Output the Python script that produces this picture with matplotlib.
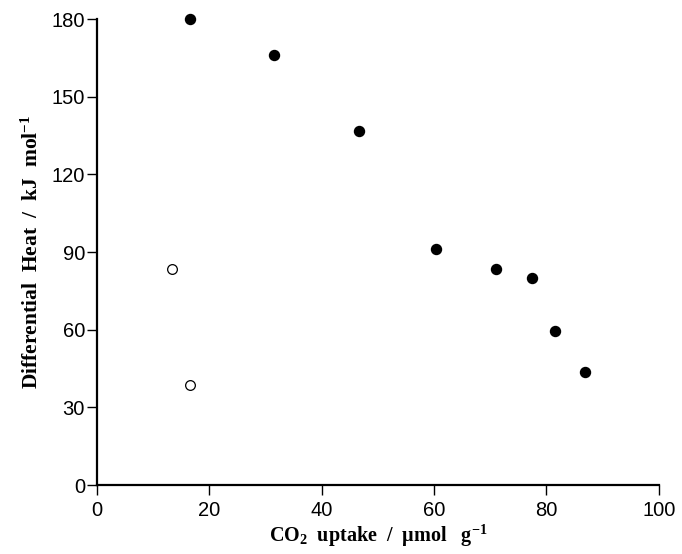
import matplotlib
matplotlib.use("Agg")
import matplotlib.pyplot as plt

# filled circles
co_uptake = [16.5, 31.5, 46.6, 60.3, 71.0, 77.4, 81.5, 86.8]
diff_heat = [180, 166, 136.7, 91.2, 83.4, 80.0, 59.5, 43.6]

# open circles
co_uptake_open = [13.3, 16.5]
diff_heat_open = [83.4, 38.6]

xticks = [0, 20, 40, 60, 80, 100]
yticks = [0, 30, 60, 90, 120, 150, 180]

plt.rcParams['mathtext.fontset'] = 'custom'
plt.rcParams['mathtext.rm'] = 'Liberation Serif:bold'
plt.rcParams['mathtext.it'] = 'Liberation Serif:bold'
plt.rcParams['mathtext.bf'] = 'Liberation Serif:bold'

fig = plt.figure(figsize=(6.82, 5.54), dpi=100)
ax = fig.add_axes([0.142, 0.1245, 0.824, 0.841])

ax.plot(co_uptake, diff_heat, 'o', color='black', markersize=7.2, clip_on=False)
ax.plot(co_uptake_open, diff_heat_open, 'o', markerfacecolor='white',
        markeredgecolor='black', markeredgewidth=0.9, markersize=7, clip_on=False)

ax.set_xlim(0, 100)
ax.set_ylim(0, 180)
ax.set_xticks(xticks)
ax.set_yticks(yticks)

for s in ['top', 'right']:
    ax.spines[s].set_visible(False)
for s in ['left', 'bottom']:
    ax.spines[s].set_linewidth(1.6)

ax.tick_params(direction='out', length=7.5, width=1.0, labelsize=14.5)
ax.tick_params(axis='y', pad=1)
ax.tick_params(axis='x', pad=4)
for lab in ax.get_xticklabels() + ax.get_yticklabels():
    lab.set_family('Liberation Sans')

ax.set_xlabel('CO$_2$  uptake  /  \u03bcmol   g$^{\\mathbf{-1}}$',
              family='Liberation Serif', fontweight='bold', fontsize=14.5, labelpad=2)
ax.set_ylabel('Differential  Heat  /  kJ  mol$^{\\mathbf{-1}}$',
              family='Liberation Serif', fontweight='bold', fontsize=15.5, labelpad=6)

fig.savefig('out.png', dpi=100)
